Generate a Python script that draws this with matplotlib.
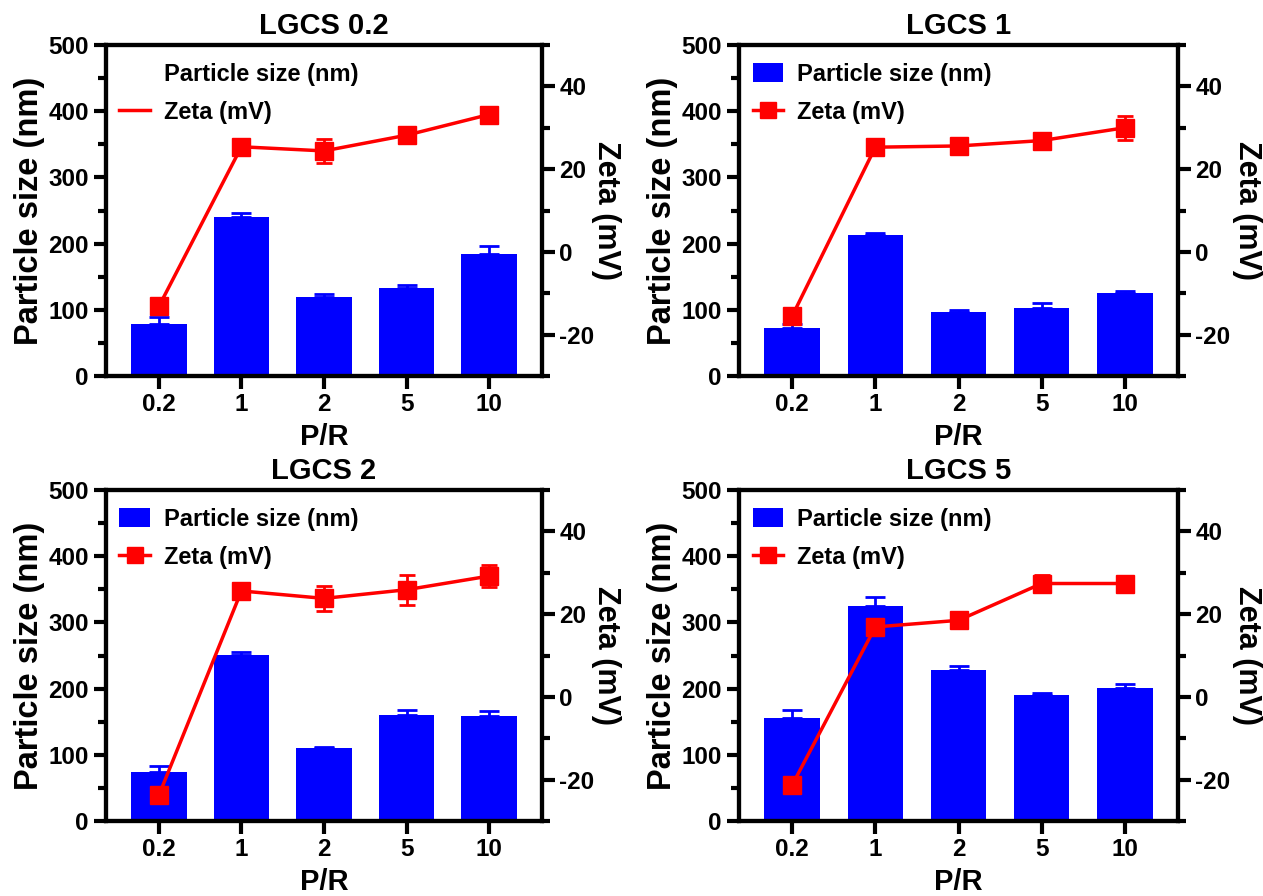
import numpy as np
import matplotlib
matplotlib.use("Agg")
import matplotlib.pyplot as plt
from matplotlib.lines import Line2D
from matplotlib.patches import Patch
from matplotlib.ticker import MultipleLocator

plt.rcParams["font.family"] = ["Liberation Sans", "DejaVu Sans"]
plt.rcParams["font.weight"] = "bold"
plt.rcParams["axes.labelweight"] = "bold"
plt.rcParams["axes.titleweight"] = "bold"
plt.rcParams["axes.unicode_minus"] = False

# ── data ──────────────────────────────────────
pr_labels = ["0.2", "1", "2", "5", "10"]
titles = ["LGCS 0.2", "LGCS 1", "LGCS 2", "LGCS 5"]

size_lgcs02 = [78, 240, 119, 133, 185]
size_err_lgcs02 = [11, 6, 5, 4, 12]
zeta_lgcs02 = [-13.2, 25.4, 24.4, 28.2, 33.2]
zeta_err_lgcs02 = [0.8, 1.0, 2.9, 1.0, 0.8]

size_lgcs1 = [72, 213, 97, 102, 126]
size_err_lgcs1 = [6, 3, 2, 8, 3]
zeta_lgcs1 = [-15.5, 25.3, 25.6, 26.9, 30.0]
zeta_err_lgcs1 = [1.0, 1.0, 0.8, 1.2, 2.9]

size_lgcs2 = [74, 251, 110, 160, 158]
size_err_lgcs2 = [9, 5, 2, 7, 8]
zeta_lgcs2 = [-23.8, 25.6, 23.8, 25.9, 29.2]
zeta_err_lgcs2 = [1.0, 1.0, 3.0, 3.6, 2.7]

size_lgcs5 = [156, 325, 228, 191, 201]
size_err_lgcs5 = [11, 14, 6, 3, 6]
zeta_lgcs5 = [-21.3, 16.9, 18.5, 27.4, 27.4]
zeta_err_lgcs5 = [1.0, 1.0, 1.0, 2.0, 1.0]

sizes = [size_lgcs02, size_lgcs1, size_lgcs2, size_lgcs5]
size_errs = [size_err_lgcs02, size_err_lgcs1, size_err_lgcs2, size_err_lgcs5]
zetas = [zeta_lgcs02, zeta_lgcs1, zeta_lgcs2, zeta_lgcs5]
zeta_errs = [zeta_err_lgcs02, zeta_err_lgcs1, zeta_err_lgcs2, zeta_err_lgcs5]

BLUE = "#0000FF"
RED = "#FF0000"
W, H = 1263, 896

# axes boxes in pixels: left, right, top, bottom
boxes = [(106, 542, 45, 376), (739, 1178, 45, 376),
         (106, 542, 490, 821), (739, 1178, 490, 821)]
# x of the right-hand "Zeta (mV)" label centre, in axes fraction
zeta_label_x = [1.147, 1.157, 1.147, 1.157]

fig = plt.figure(figsize=(W / 100, H / 100), dpi=100)
x = np.arange(len(pr_labels))

for i in range(4):
    l, r, t, b = boxes[i]
    ax = fig.add_axes([l / W, 1 - b / H, (r - l) / W, (b - t) / H])
    ax2 = ax.twinx()

    ax.bar(x, sizes[i], width=0.67, color=BLUE, zorder=2)
    ax.errorbar(x, sizes[i], yerr=[np.zeros(5), size_errs[i]], fmt="none",
                ecolor=BLUE, elinewidth=2, capsize=7, capthick=2, zorder=3)

    ax2.errorbar(x, zetas[i], yerr=zeta_errs[i], fmt="-s", color=RED,
                 lw=2.5, ms=13, elinewidth=2, capsize=6, capthick=2)

    ax.set_xlim(-0.64, 4.64)
    ax.set_ylim(0, 500)
    ax2.set_ylim(-30, 50)
    ax.set_xticks(x)
    ax.set_xticklabels(pr_labels)
    ax.yaxis.set_major_locator(MultipleLocator(100))
    ax.yaxis.set_minor_locator(MultipleLocator(50))
    ax2.set_yticks([-20, 0, 20, 40])
    ax2.yaxis.set_minor_locator(MultipleLocator(10))

    for a in (ax, ax2):
        for s in a.spines.values():
            s.set_linewidth(3)
        a.tick_params(which="major", length=9, width=3, labelsize=17.5)
        a.tick_params(which="minor", length=6, width=3)
    ax.tick_params(axis="x", which="minor", length=0)

    ax.set_title(titles[i], fontsize=21, pad=8)
    ax.set_xlabel("P/R", fontsize=21, labelpad=5)
    ax.set_ylabel("Particle size (nm)", fontsize=23.5, labelpad=2)
    ax2.set_ylabel("Zeta (mV)", fontsize=22, rotation=270,
                   ha="center", va="center")
    ax2.yaxis.set_label_coords(zeta_label_x[i], 0.5)

    if i == 0:
        handles = [Patch(facecolor="none", edgecolor="none"),
                   Line2D([], [], color=RED, lw=2.5)]
    else:
        handles = [Patch(facecolor=BLUE, edgecolor="none"),
                   Line2D([], [], color=RED, lw=2.5, marker="s", ms=12)]
    ax2.legend(handles, ["Particle size (nm)", "Zeta (mV)"], loc="upper left",
               bbox_to_anchor=(0.02, 0.96), borderaxespad=0, borderpad=0.2,
               frameon=False, fontsize=17, handlelength=1.3, handleheight=0.85,
               handletextpad=0.6, labelspacing=0.62)

fig.savefig("out.png", dpi=100)
